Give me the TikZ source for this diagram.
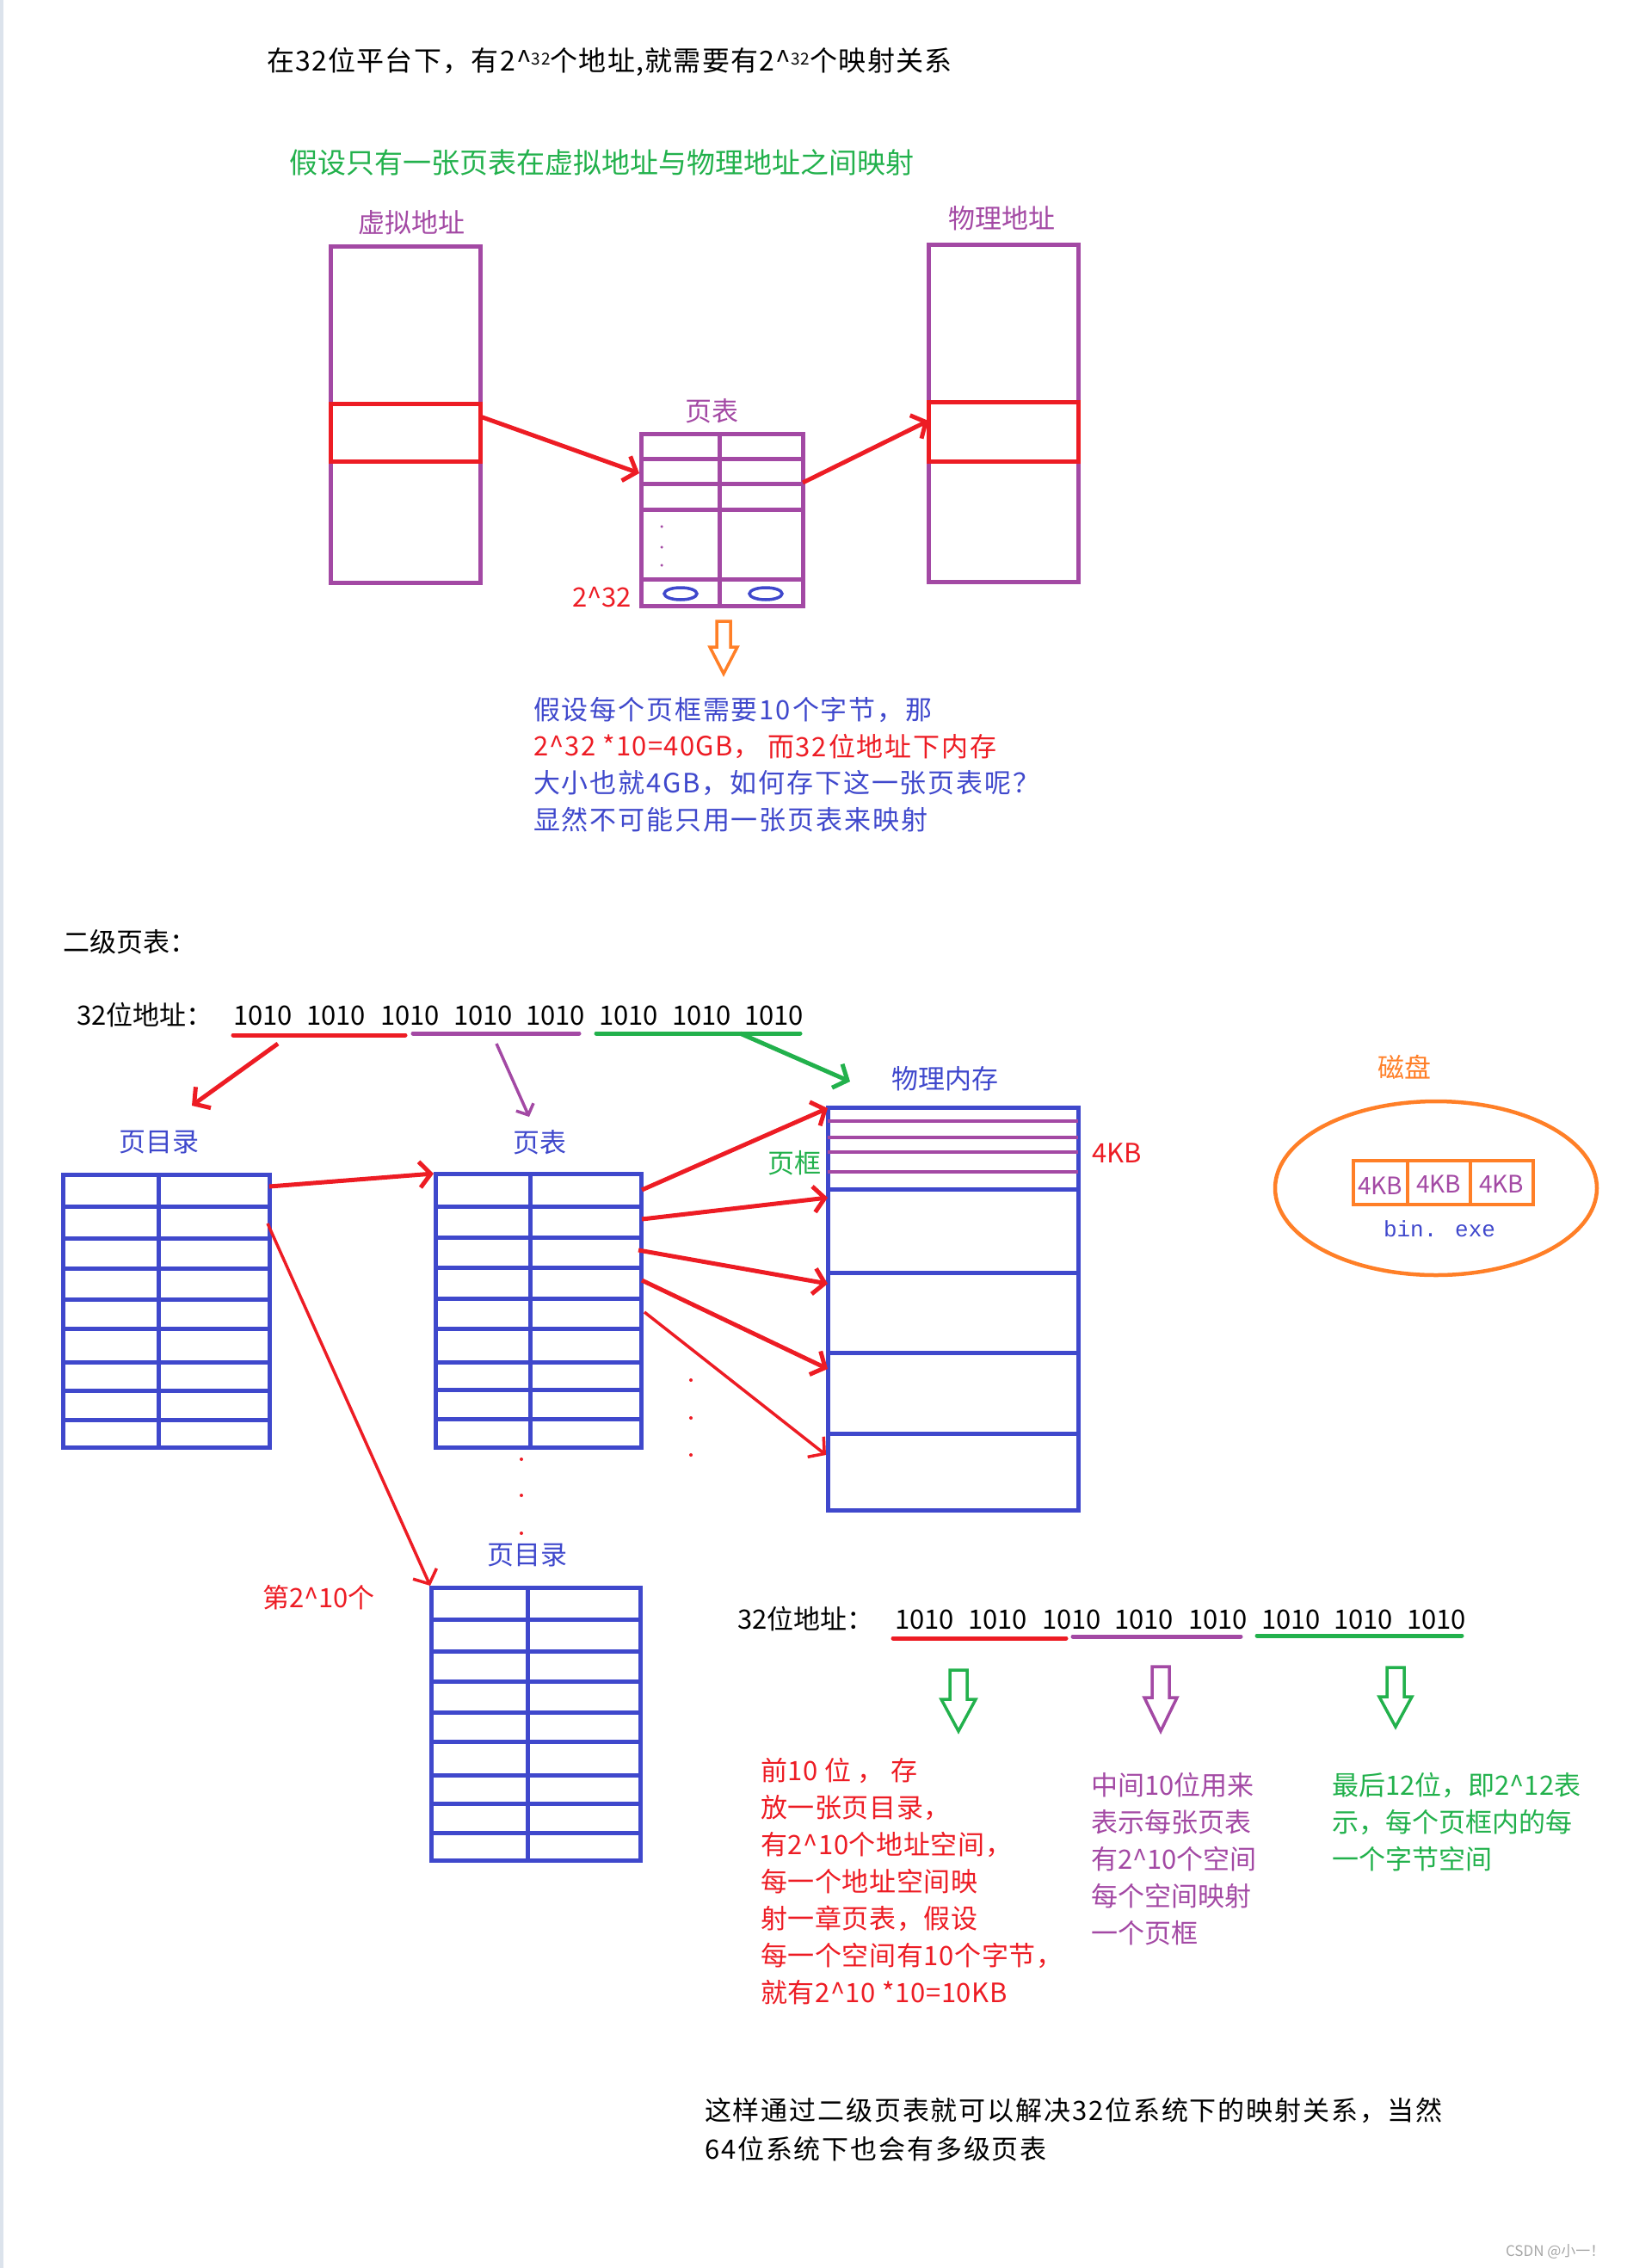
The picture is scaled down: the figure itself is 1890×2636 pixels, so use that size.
\documentclass[tikz,border=0pt]{standalone}
\usepackage{fontspec}
\setmainfont{Noto Sans CJK SC}
\newfontfamily\monofont{Liberation Mono}
\usetikzlibrary{arrows.meta}
\definecolor{pRed}{HTML}{ED1C24}
\definecolor{pPurple}{HTML}{A349A4}
\definecolor{pBlue}{HTML}{3F48CC}
\definecolor{pGreen}{HTML}{22B14C}
\definecolor{pOrange}{HTML}{FF7F27}
\definecolor{pEdge}{HTML}{DCE3EC}
\newcommand{\caret}{\textasciicircum}
\tikzset{
  txt/.style={font=\fontsize{31}{43}\selectfont, inner sep=0pt, outer sep=0pt},
  txtw/.style={txt, anchor=west},
  spaced/.style={font=\fontsize{31}{43}\selectfont\addfontfeatures{LetterSpace=#1}},
  boxnode/.style={draw, rectangle, inner sep=0pt, outer sep=0pt, anchor=north west},
  barb/.style={-{Straight Barb[length=13pt,width=30pt]}},
  redarrow/.style={draw=pRed, line width=5pt, barb},
  thinred/.style={draw=pRed, line width=3.5pt, barb},
  grid/.style={line width=5pt},
  hollow/.style={line width=3.5pt, line join=miter},
  dotmark/.style={circle, fill=#1, inner sep=0pt, minimum size=4pt},
}
\begin{document}
\begin{tikzpicture}[x=1pt,y=-1pt]
\useasboundingbox (0,0) rectangle (1890,2636);
\fill[pEdge] (0,0) rectangle (4,2636);

% ---------- top section ----------
\node[txtw, font=\fontsize{32}{40}\selectfont\addfontfeatures{LetterSpace=4}] (title) at (310,72)
  {在32位平台下，有2\caret\raisebox{7pt}{\fontsize{19}{19}\selectfont 32}个地址,就需要有2\caret\raisebox{7pt}{\fontsize{19}{19}\selectfont 32}个映射关系};
\node[txtw, text=pGreen, font=\fontsize{33}{40}\selectfont] (gtitle) at (336,189) {假设只有一张页表在虚拟地址与物理地址之间映射};

\node[txt, text=pPurple] (vlabel) at (478,259) {虚拟地址};
\node[txt, text=pPurple] (plabel) at (1164,254) {物理地址};
\node[txt, text=pPurple] (ptlabel) at (827,478) {页表};

\node[boxnode, draw=pPurple, line width=5pt, minimum width=174pt, minimum height=391pt] (vaddr) at (384,286) {};
\node[boxnode, draw=pRed, line width=5pt, minimum width=174pt, minimum height=67pt] (vsel) at (384,469) {};
\node[boxnode, draw=pPurple, line width=5pt, minimum width=174pt, minimum height=392pt] (paddr) at (1079,284) {};
\node[boxnode, draw=pRed, line width=5pt, minimum width=174pt, minimum height=69pt] (psel) at (1079,467) {};

\node[boxnode, draw=pPurple, line width=5pt, minimum width=188pt, minimum height=200pt] (ptab) at (745,504) {};
\foreach \yy in {533,562,592,673} \draw[pPurple, grid] (745,\yy) -- (933,\yy);
\draw[pPurple, grid] (836,504) -- (836,704);
\foreach \yy [count=\i] in {612,636,657} \node[dotmark=pPurple, minimum size=3.5pt] (pd\i) at (769,\yy) {};
\draw[pBlue, line width=3.5pt] (791,690) ellipse [x radius=19, y radius=7];
\draw[pBlue, line width=3.5pt] (890,690) ellipse [x radius=19, y radius=7];
\node[txt, text=pRed, anchor=east] (n232) at (734,694) {2\caret32};

\coordinate (a1s) at (558,484);
\coordinate (a1e) at (743,550);
\coordinate (a2s) at (933,561);
\coordinate (a2e) at (1079,489);
\draw[redarrow] (a1s) -- (a1e);
\draw[redarrow] (a2s) -- (a2e);

% orange hollow arrow
\draw[pOrange, hollow] (833,722) -- (849,722) -- (849,752) -- (857,752) -- (841,783) -- (825,752) -- (833,752) -- cycle;

\node[txtw, text=pBlue, spaced=6] (t1) at (620,825) {假设每个页框需要10个字节，那};
\node[txtw, text=pRed, spaced=4] (t2a) at (620,868) {2\caret32 *10=40GB，};
\node[txtw, text=pRed, spaced=6] (t2b) at (892,868) {而32位地址下内存};
\node[txtw, text=pBlue, spaced=6] (t3) at (620,910) {大小也就4GB，如何存下这一张页表呢？};
\node[txtw, text=pBlue, spaced=6] (t4) at (620,953) {显然不可能只用一张页表来映射};

% ---------- second section ----------
\node[txtw] (sec2) at (73,1095) {二级页表：};
\node[txtw] (addr1) at (89,1180) {32位地址：};
\foreach \xx [count=\i] in {271,356,442,527,611,696,781,865}
  \node[txtw] (ba\i) at (\xx,1180) {1010};
\draw[pRed, line width=5pt, line cap=round] (271,1203) -- (471,1203);
\draw[pPurple, line width=5pt, line cap=round] (480,1201) -- (673,1201);
\draw[pGreen, line width=5pt, line cap=round] (693,1201) -- (930,1201);

\node[txt, text=pBlue] (pdlabel) at (185,1328) {页目录};
\node[txt, text=pBlue] (ptlabel2) at (627,1328) {页表};
\node[txt, text=pBlue] (memlabel) at (1098,1254) {物理内存};
\node[txt, text=pGreen] (pflabel) at (923,1352) {页框};
\node[txtw, text=pRed] (kb) at (1269,1340) {4KB};

\coordinate (r1s) at (323,1213);
\coordinate (r1e) at (223,1285);
\coordinate (p1s) at (577,1213);
\coordinate (p1e) at (615,1298);
\coordinate (g1s) at (860,1201);
\coordinate (g1e) at (988,1257);
\draw[redarrow] (r1s) -- (r1e);
\draw[draw=pPurple, line width=3.5pt, -{Straight Barb[length=10pt,width=22pt]}] (p1s) -- (p1e);
\draw[draw=pGreen, line width=5pt, barb] (g1s) -- (g1e);

% page directory 1
\node[boxnode, draw=pBlue, line width=5pt, minimum width=240pt, minimum height=317pt] (pdir1) at (73,1365) {};
\foreach \yy in {1402,1439,1474,1510,1544,1583,1616,1650} \draw[pBlue, grid] (73,\yy) -- (313,\yy);
\draw[pBlue, grid] (184,1365) -- (184,1682);

% page table
\node[boxnode, draw=pBlue, line width=5pt, minimum width=239pt, minimum height=318pt] (ptab2) at (506,1364) {};
\foreach \yy in {1402,1438,1473,1509,1544,1583,1615,1649} \draw[pBlue, grid] (506,\yy) -- (745,\yy);
\draw[pBlue, grid] (616,1364) -- (616,1682);

% page directory 2
\node[boxnode, draw=pBlue, line width=5pt, minimum width=243pt, minimum height=317pt] (pdir2) at (501,1845) {};
\foreach \yy in {1882,1919,1954,1990,2024,2063,2096,2130} \draw[pBlue, grid] (501,\yy) -- (744,\yy);
\draw[pBlue, grid] (613,1845) -- (613,2162);
\node[txt, text=pBlue] (pdlabel2) at (613,1808) {页目录};
\node[txtw, text=pRed] (nth) at (305,1857) {第2\caret10个};

% physical memory
\node[boxnode, draw=pBlue, line width=5pt, minimum width=291pt, minimum height=468pt] (mem) at (962,1287) {};
\foreach \yy in {1303,1322,1339,1362} \draw[pPurple, line width=4.5pt] (962,\yy) -- (1253,\yy);
\foreach \yy in {1382,1479,1572,1666} \draw[pBlue, grid] (962,\yy) -- (1253,\yy);

% red arrows
\coordinate (d1s) at (313,1379);
\coordinate (d1e) at (504,1364);
\coordinate (d2s) at (311,1422);
\coordinate (d2e) at (500,1843);
\draw[redarrow] (d1s) -- (d1e);
\draw[thinred] (d2s) -- (d2e);
\coordinate (m1s) at (746,1383); \coordinate (m1e) at (962,1288);
\coordinate (m2s) at (746,1417); \coordinate (m2e) at (962,1392);
\coordinate (m3s) at (742,1453); \coordinate (m3e) at (962,1492);
\coordinate (m4s) at (746,1488); \coordinate (m4e) at (962,1591);
\coordinate (m5s) at (749,1525); \coordinate (m5e) at (960,1691);
\draw[redarrow] (m1s) -- (m1e);
\draw[redarrow] (m2s) -- (m2e);
\draw[redarrow] (m3s) -- (m3e);
\draw[redarrow] (m4s) -- (m4e);
\draw[thinred] (m5s) -- (m5e);

\foreach \yy [count=\i] in {1604,1648,1691} \node[dotmark=pRed] (rd\i) at (803,\yy) {};
\foreach \yy [count=\i] in {1696,1738,1782} \node[dotmark=pRed] (cd\i) at (606,\yy) {};

% disk
\node[txt, text=pOrange] (disklabel) at (1632,1240) {磁盘};
\draw[pOrange, line width=4.5pt] (1669,1381) ellipse [x radius=187, y radius=101];
\node[boxnode, draw=pOrange, line width=4.5pt, minimum width=209pt, minimum height=51pt] (blocks) at (1573,1349) {};
\draw[pOrange, line width=4.5pt] (1636,1349) -- (1636,1400);
\draw[pOrange, line width=4.5pt] (1709,1349) -- (1709,1400);
\node[txt, text=pPurple, font=\fontsize{28}{30}\selectfont] (k1) at (1604,1378) {4KB};
\node[txt, text=pPurple, font=\fontsize{28}{30}\selectfont] (k2) at (1672,1376) {4KB};
\node[txt, text=pPurple, font=\fontsize{28}{30}\selectfont] (k3) at (1745,1376) {4KB};
\node[txt, text=pBlue, font=\monofont\fontsize{26}{30}\selectfont] (bin) at (1673,1428) {bin. exe};

% ---------- third part ----------
\node[txtw] (addr2) at (857,1882) {32位地址：};
\foreach \xx [count=\i] in {1040,1125,1211,1295,1381,1466,1550,1635}
  \node[txtw] (bb\i) at (\xx,1882) {1010};
\draw[pRed, line width=5pt, line cap=round] (1038,1904) -- (1239,1904);
\draw[pPurple, line width=5pt, line cap=round] (1247,1902) -- (1442,1902);
\draw[pGreen, line width=5pt, line cap=round] (1461,1901) -- (1699,1901);

\draw[pGreen, hollow] (1104,1941) -- (1124,1941) -- (1124,1975) -- (1134,1975) -- (1114,2012) -- (1094,1975) -- (1104,1975) -- cycle;
\draw[pPurple, hollow] (1339,1937) -- (1359,1937) -- (1359,1973) -- (1368,1973) -- (1349,2012) -- (1330,1973) -- (1339,1973) -- cycle;
\draw[pGreen, hollow] (1612,1938) -- (1632,1938) -- (1632,1972) -- (1641,1972) -- (1622,2007) -- (1603,1972) -- (1612,1972) -- cycle;

\node[txt, text=pRed, anchor=north west, align=left, spaced=2] (redblock) at (884,2043)
  {前10 位 ， 存\\放一张页目录，\\有2\caret10个地址空间，\\每一个地址空间映\\射一章页表，假设\\每一个空间有10个字节，\\就有2\caret10 *10=10KB};
\node[txt, text=pPurple, anchor=north west, align=left] (purpleblock) at (1268,2060)
  {中间10位用来\\表示每张页表\\有2\caret10个空间\\每个空间映射\\一个页框};
\node[txt, text=pGreen, anchor=north west, align=left] (greenblock) at (1548,2060)
  {最后12位，即2\caret12表\\示，每个页框内的每\\一个字节空间};

\node[txtw, spaced=6] (concl1) at (819,2453) {这样通过二级页表就可以解决32位系统下的映射关系，当然};
\node[txtw, spaced=6] (concl2) at (819,2498) {64位系统下也会有多级页表};
\node[txtw, text=gray!70, font=\fontsize{17}{20}\selectfont] (wm) at (1750,2617) {CSDN @小一！};
\end{tikzpicture}
\end{document}
